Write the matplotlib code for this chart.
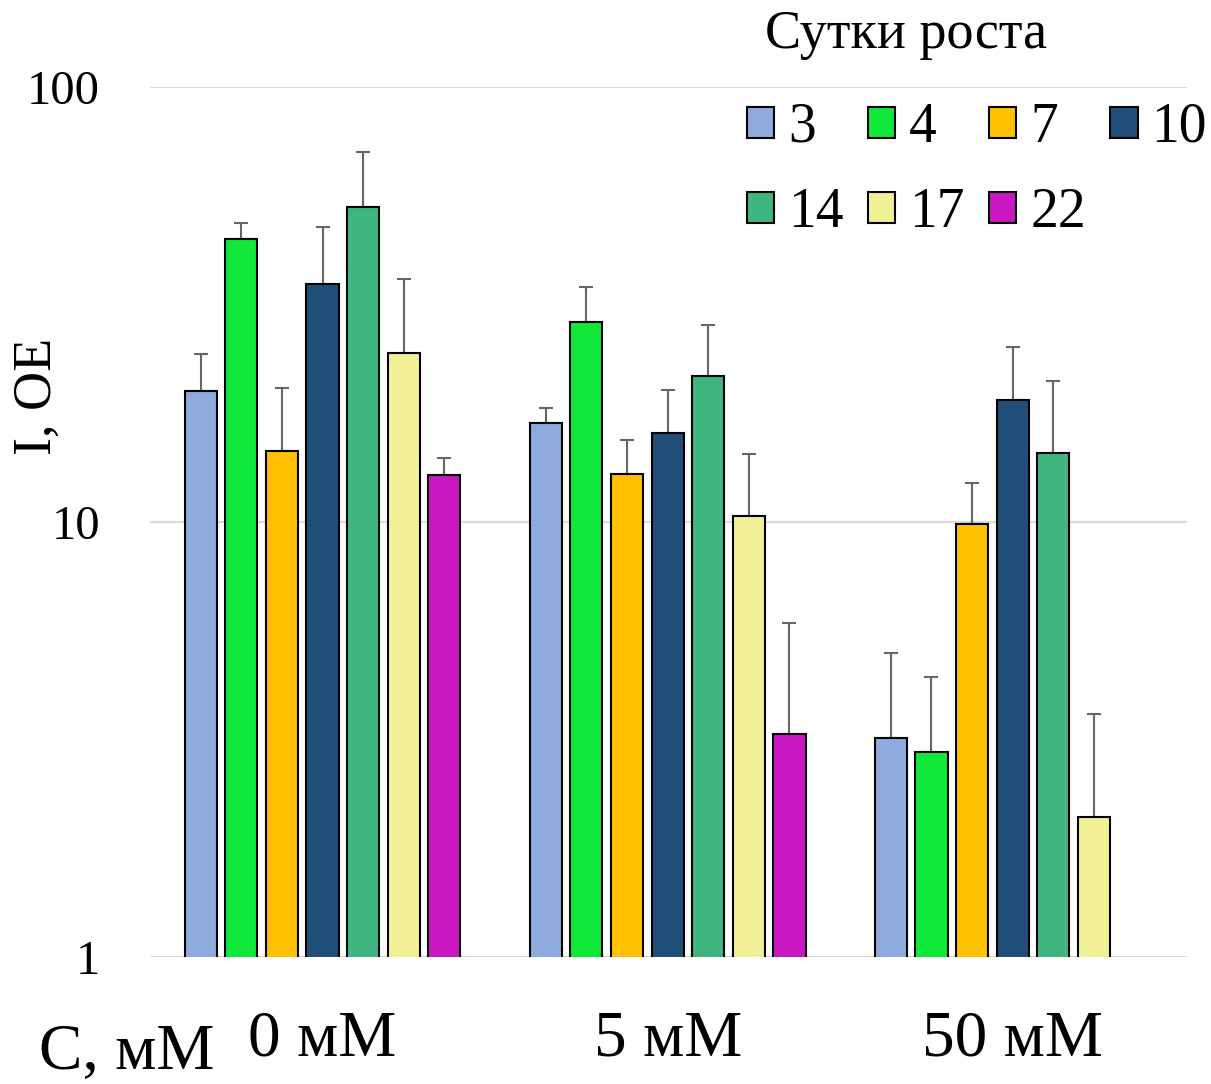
import matplotlib.pyplot as plt
import numpy as np

plt.rcParams['font.family'] = ['Liberation Serif', 'DejaVu Serif']

groups = ['0 мМ', '5 мМ', '50 мМ']
days = ['3', '4', '7', '10', '14', '17', '22']
colors = ['#8FAADC', '#10E83A', '#FFC000', '#1F4E79', '#3FB67F', '#F2F096', '#C918C1']

# bar heights per day, one value per group (nan = no bar)
values = {
    '3': [20.0, 16.9, 3.19],
    '4': [44.7, 28.8, 2.96],
    '7': [14.6, 12.9, 9.9],
    '10': [35.2, 16.0, 19.1],
    '14': [53.0, 21.7, 14.4],
    '17': [24.5, 10.3, 2.10],
    '22': [12.8, 3.26, np.nan],
}
# upper end of the error bars
err_top = {
    '3': [24.3, 18.3, 5.0],
    '4': [48.7, 34.7, 4.40],
    '7': [20.3, 15.4, 12.3],
    '10': [47.7, 20.1, 25.3],
    '14': [70.9, 28.4, 21.1],
    '17': [36.2, 14.3, 3.62],
    '22': [14.0, 5.86, np.nan],
}

fig = plt.figure(figsize=(12.11, 10.84), dpi=100)
ax = fig.add_axes([150 / 1211, 1 - 957 / 1084, 1037 / 1211, 870 / 1084])

x = np.arange(len(groups))
step = 0.1177
width = 0.093
bars = []
for i, d in enumerate(days):
    v = np.array(values[d])
    up = np.array(err_top[d]) - v
    pos = x + (i - 3) * step
    b = ax.bar(pos, v, width, color=colors[i], edgecolor='black', linewidth=1.5,
               label=d, zorder=3)
    bars.append(b)
    ax.errorbar(pos, v, yerr=[np.zeros_like(up), up], fmt='none',
                ecolor='#666666', elinewidth=1.5, capsize=5, capthick=1.5, zorder=2)

ax.set_yscale('log')
ax.set_ylim(1, 100)
ax.set_xlim(-0.5, 2.505)
ax.set_yticks([1, 10, 100])
ax.set_yticklabels(['1', '10', '100'])
ax.minorticks_off()
ax.yaxis.grid(True, color='#D9D9D9', linewidth=1.5, zorder=0)
for s in ax.spines.values():
    s.set_visible(False)
ax.tick_params(axis='both', length=0)
ax.tick_params(axis='y', pad=36, labelsize=35)
ax.set_xticks(x)
ax.set_xticklabels(groups)
ax.tick_params(axis='x', pad=38, labelsize=47)

fig.text(38 / 1211, 1 - 396 / 1084, 'I, OE', rotation=90, fontsize=39,
         ha='center', va='center')
fig.text(127 / 1211, 1 - 1052 / 1084, 'C, мМ', fontsize=47, ha='center', va='center')

# legend filled row by row: 3 4 7 10 / 14 17 22
order = [0, 4, 1, 5, 2, 6, 3]
leg = ax.legend([bars[k] for k in order], [days[k] for k in order],
                ncol=4, loc='upper left', bbox_to_anchor=(597 / 1037, 1 - 15 / 870),
                frameon=False, fontsize=40, borderpad=0,
                handlelength=0.49, handleheight=0.49, handletextpad=0.25,
                columnspacing=0.44, labelspacing=0.6, borderaxespad=0)
leg.set_zorder(5)
fig.text(906 / 1211, 1 - 35 / 1084, 'Сутки роста', fontsize=39, ha='center', va='center')

fig.savefig('out.png', dpi=100)
